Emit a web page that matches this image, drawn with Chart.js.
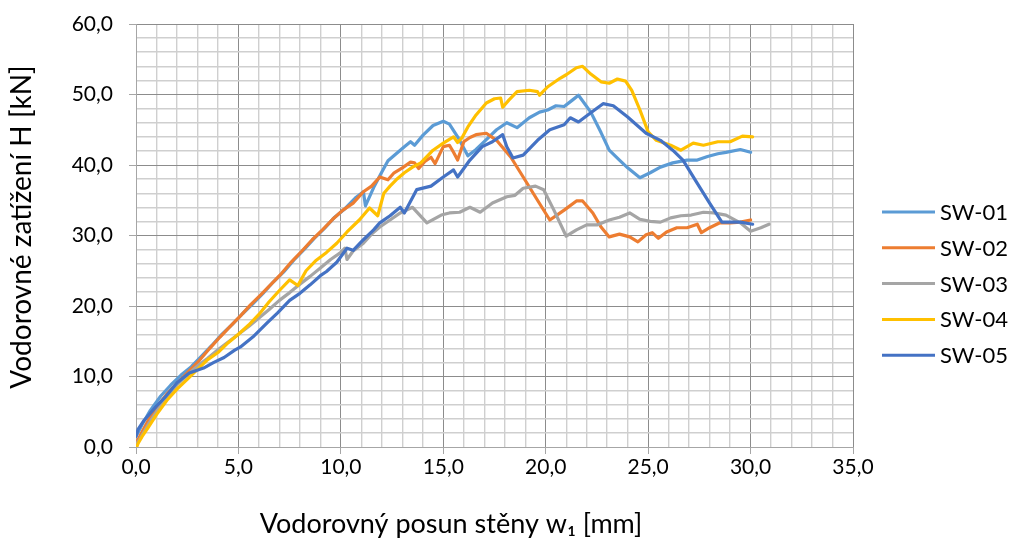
<!DOCTYPE html>
<html>
<head>
<meta charset="utf-8">
<script src="https://cdn.jsdelivr.net/npm/chart.js@4"></script>
<style>
html,body{margin:0;padding:0;background:#fff;}
#wrap{width:1012px;height:542px;position:relative;}
</style>
</head>
<body>
<div id="wrap"><canvas id="c" width="1012" height="542"></canvas></div>
<script>
const seriesNames = ["SW-01", "SW-02", "SW-03", "SW-04", "SW-05"];
const seriesColors = ["#5B9BD5", "#ED7D31", "#A5A5A5", "#FFC000", "#4472C4"];

const sw01X = [0,0.3,0.7,1.2,1.7,2.2,2.7,3.2,3.7,4.2,4.7,5.2,5.7,6.2,6.7,7.2,7.7,8.2,8.7,9.2,9.7,10.2,10.7,11.1,11.2,11.6,12.0,12.3,12.7,13.1,13.4,13.6,14.0,14.5,15.0,15.3,15.7,16.2,16.6,17.1,17.6,18.1,18.6,19.2,19.7,20.1,20.5,20.9,21.3,21.6,22.2,22.7,23.1,23.6,24.0,24.6,25.1,25.6,26.2,26.9,27.4,27.9,28.4,28.8,29.5,30.0];
const sw01Y = [1.5,3.2,5.2,7.2,8.8,10.2,11.4,12.9,14.4,16.0,17.4,18.9,20.3,21.8,23.4,24.8,26.5,28.0,29.6,31.0,32.6,33.8,35.3,36.2,34.2,36.8,39.0,40.6,41.6,42.6,43.3,42.8,44.2,45.6,46.2,45.8,44.0,41.3,42.2,43.6,45.0,46.0,45.3,46.7,47.5,47.8,48.4,48.3,49.2,49.9,47.5,44.6,42.1,40.7,39.6,38.2,38.9,39.7,40.3,40.7,40.7,41.2,41.6,41.8,42.2,41.8];

const sw02X = [0,0.2,0.6,1.0,1.5,2.1,2.6,3.1,3.6,4.1,4.6,5.1,5.6,6.1,6.6,7.1,7.6,8.1,8.6,9.1,9.6,10.1,10.6,11.1,11.5,11.9,12.3,12.6,13.0,13.4,13.6,13.8,14.1,14.4,14.6,15.0,15.3,15.5,15.7,16.0,16.3,16.6,17.1,17.6,18.3,18.9,19.6,20.2,20.6,20.9,21.5,21.8,22.3,22.7,23.1,23.6,24.1,24.5,24.9,25.2,25.5,25.9,26.4,26.9,27.4,27.6,28.0,28.5,29.0,29.5,30.0];
const sw02Y = [0.5,1.6,3.8,5.6,7.5,9.3,10.8,12.3,14.0,15.6,17.1,18.6,20.2,21.6,23.1,24.6,26.3,27.8,29.4,30.8,32.3,33.6,34.6,36.2,37.0,38.3,37.9,38.9,39.6,40.4,40.3,39.5,40.5,41.1,40.2,42.6,42.8,41.8,40.7,43.3,43.9,44.3,44.5,43.5,41.1,38.3,35.0,32.2,33.0,33.6,34.9,34.9,33.2,31.2,29.8,30.2,29.8,29.1,30.1,30.4,29.6,30.5,31.1,31.1,31.6,30.4,31.1,31.8,31.8,31.9,32.2];

const sw03X = [0,0.2,0.6,1.0,1.5,2.0,2.5,3.0,3.5,4.0,4.5,5.0,5.5,6.0,6.5,7.0,7.5,8.0,8.5,9.0,9.5,10.0,10.2,10.3,10.6,11.1,11.5,11.9,12.4,12.9,13.5,14.2,14.9,15.3,15.8,16.3,16.8,17.4,18.1,18.5,18.9,19.5,19.9,20.4,21.0,21.5,22.0,22.5,23.1,23.6,24.1,24.6,25.1,25.6,26.1,26.6,27.1,27.7,28.2,28.8,29.5,30.0,30.5,30.9];
const sw03Y = [0.3,1.2,3.2,5.0,7.0,8.8,10.2,11.5,12.6,13.8,14.9,16.0,17.1,18.3,19.5,20.8,21.9,23.1,24.2,25.4,26.6,27.6,28.2,26.6,27.8,28.9,30.2,31.2,32.2,33.2,34.0,31.8,32.9,33.2,33.3,34.0,33.3,34.6,35.5,35.7,36.7,37.0,36.5,33.6,29.9,30.8,31.5,31.5,32.2,32.6,33.2,32.3,32.0,31.9,32.5,32.8,32.9,33.3,33.2,32.9,31.8,30.6,31.1,31.6];

const sw04X = [0,0.1,0.3,0.6,1.0,1.5,2.0,2.5,3.0,3.5,4.0,4.5,5.0,5.5,6.0,6.5,7.0,7.5,7.9,8.3,8.8,9.3,9.8,10.3,10.9,11.4,11.8,12.1,12.4,12.7,13.1,13.5,13.9,14.5,15.0,15.5,15.7,15.9,16.2,16.6,17.1,17.5,17.8,17.9,18.2,18.6,19.2,19.6,19.7,20.1,20.7,21.0,21.5,21.8,22.2,22.7,23.1,23.5,23.9,24.2,24.6,25.0,25.4,26.1,26.6,27.2,27.7,28.4,29.0,29.6,30.1];
const sw04Y = [-0.3,0.5,1.5,2.8,4.6,6.6,8.2,9.6,11.0,12.4,13.4,14.8,16.0,17.3,18.8,20.6,22.2,23.7,22.9,25.0,26.5,27.6,28.9,30.5,32.2,33.9,32.8,36.0,37.0,37.9,38.9,39.7,40.3,42.1,43.1,44.0,43.2,43.8,45.4,47.1,48.8,49.4,49.5,48.2,49.2,50.4,50.6,50.4,49.9,51.1,52.3,52.8,53.8,54.0,52.9,51.8,51.6,52.2,51.9,50.6,47.8,44.7,43.5,42.8,42.1,43.1,42.8,43.3,43.3,44.1,44.0];

const sw05X = [0,0.1,0.4,0.7,1.0,1.4,2.0,2.6,3.3,3.8,4.3,4.8,5.1,5.7,6.4,6.9,7.5,8.0,8.5,9.0,9.3,9.8,10.3,10.6,11.1,11.6,11.9,12.4,12.9,13.1,13.7,14.4,15.0,15.5,15.7,16.3,16.9,17.4,17.9,18.1,18.4,18.9,19.6,20.2,20.9,21.2,21.6,22.2,22.8,23.3,24.0,24.9,25.6,26.2,26.7,27.4,28.0,28.6,29.0,29.5,30.1];
const sw05Y = [1.5,2.5,3.8,4.8,5.8,7.0,9.1,10.5,11.2,12.0,12.7,13.7,14.2,15.6,17.6,19.0,20.8,21.8,23.0,24.3,24.9,26.2,28.2,27.9,29.4,30.8,31.8,32.8,34.0,33.2,36.5,37.0,38.3,39.3,38.3,40.7,42.6,43.3,44.3,42.6,41.0,41.4,43.5,45.0,45.7,46.7,46.1,47.4,48.7,48.4,46.8,44.5,43.5,42.1,40.7,37.4,34.6,31.9,31.9,31.9,31.6];

const xTickLabels = ["0,0","5,0","10,0","15,0","20,0","25,0","30,0","35,0"];
const yTickLabels = ["0,0","10,0","20,0","30,0","40,0","50,0","60,0"];
const xTitle = "Vodorovný posun stěny w₁ [mm]";
const yTitle = "Vodorovné zatížení H [kN]";

const xs = [sw01X, sw02X, sw03X, sw04X, sw05X];
const ys = [sw01Y, sw02Y, sw03Y, sw04Y, sw05Y];

const FONT = "Lato, 'Open Sans', sans-serif";
const MAJOR = '#8c8c8c', MINOR = '#cfcfcf', AXIS = '#a6a6a6';
const PAD_BOTTOM = 2;

const datasets = seriesNames.map((n, i) => ({
  label: n,
  data: xs[i].map((x, k) => ({x: x, y: ys[i][k]})),
  borderColor: seriesColors[i],
  backgroundColor: seriesColors[i],
  borderWidth: 3.2,
  pointRadius: 0,
  tension: 0,
  fill: false,
  borderJoinStyle: 'round',
  borderCapStyle: 'round',
  order: seriesNames.length - 1 - i
}));

const legendPlugin = {
  id: 'customLegendTitles',
  afterDraw(chart) {
    const ctx = chart.ctx, ca = chart.chartArea;
    ctx.save();
    ctx.font = "22px " + FONT;
    ctx.textBaseline = 'middle';
    ctx.textAlign = 'left';
    chart.data.datasets.forEach((ds, i) => {
      const y = ca.top + 188 + i * 35.8;
      ctx.strokeStyle = ds.borderColor;
      ctx.lineWidth = 3;
      ctx.beginPath();
      ctx.moveTo(ca.right + 29, y);
      ctx.lineTo(ca.right + 82, y);
      ctx.stroke();
      ctx.fillStyle = '#000';
      ctx.fillText(ds.label, ca.right + 87, y + 1);
    });
    // axis titles
    ctx.font = "27px " + FONT;
    ctx.textAlign = 'center';
    ctx.fillStyle = '#000';
    ctx.fillText(xTitle, ca.left + 315, ca.bottom + 77);
    ctx.translate(22, ca.top + 203);
    ctx.rotate(-Math.PI / 2);
    ctx.font = "28px " + FONT;
    ctx.fillText(yTitle, 0, 0);
    ctx.restore();
  }
};

new Chart(document.getElementById('c'), {
  type: 'line',
  data: { datasets },
  plugins: [legendPlugin],
  options: {
    responsive: false,
    animation: false,
    layout: { padding: { left: 0, right: 159, top: 24, bottom: PAD_BOTTOM } },
    plugins: { legend: { display: false }, tooltip: { enabled: false } },
    scales: {
      x: {
        type: 'linear', min: 0, max: 35,
        afterFit(scale) { scale.height = 542 - 447 - PAD_BOTTOM; },
        ticks: {
          stepSize: 1, autoSkip: false, maxRotation: 0, padding: 1,
          color: '#000', font: { family: FONT, size: 21 },
          callback: (v) => (v % 5 === 0 ? xTickLabels[v / 5] : '')
        },
        grid: {
          color: (c) => (c.tick && c.tick.value % 5 === 0 ? MAJOR : MINOR),
          lineWidth: (c) => (c.tick && c.tick.value % 5 === 0 ? 1 : 1.4),
          tickLength: 7,
          tickColor: (c) => (c.tick && c.tick.value % 5 === 0 ? AXIS : 'rgba(0,0,0,0)')
        },
        border: { color: AXIS, width: 1 },
        title: { display: false, text: xTitle }
      },
      y: {
        type: 'linear', min: 0, max: 60,
        afterFit(scale) { scale.width = 136; scale.paddingTop = 0; scale.paddingBottom = 0; },
        ticks: {
          stepSize: 2, autoSkip: false, padding: 16,
          color: '#000', font: { family: FONT, size: 21 },
          callback: (v) => (v % 10 === 0 ? yTickLabels[v / 10] : '')
        },
        grid: {
          color: (c) => (c.tick && c.tick.value % 10 === 0 ? MAJOR : MINOR),
          lineWidth: (c) => (c.tick && c.tick.value % 10 === 0 ? 1 : 1.4),
          tickLength: 7,
          tickColor: (c) => (c.tick && c.tick.value % 10 === 0 ? AXIS : 'rgba(0,0,0,0)')
        },
        border: { color: AXIS, width: 1 },
        title: { display: false, text: yTitle }
      }
    }
  }
});
</script>
</body>
</html>
